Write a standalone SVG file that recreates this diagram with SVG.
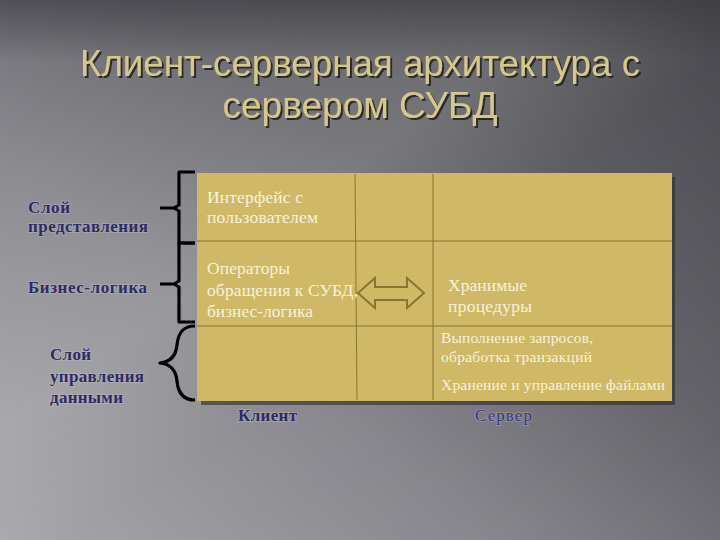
<svg xmlns="http://www.w3.org/2000/svg" width="720" height="540" viewBox="0 0 720 540">
<defs>
<linearGradient id="bg" x1="0" y1="1" x2="1" y2="0">
<stop offset="0" stop-color="#a2a2a7"/>
<stop offset="0.35" stop-color="#84848a"/>
<stop offset="0.6" stop-color="#626268"/>
<stop offset="1" stop-color="#404046"/>
</linearGradient>
<linearGradient id="streak" x1="0" y1="0" x2="1" y2="1">
<stop offset="0" stop-color="#ffffff" stop-opacity="0"/>
<stop offset="0.4" stop-color="#ffffff" stop-opacity="0.15"/>
<stop offset="0.55" stop-color="#ffffff" stop-opacity="0.04"/>
<stop offset="1" stop-color="#ffffff" stop-opacity="0"/>
</linearGradient>
<linearGradient id="topdark" x1="0" y1="0" x2="0" y2="1">
<stop offset="0" stop-color="#2a2a30" stop-opacity="0.45"/>
<stop offset="1" stop-color="#2a2a30" stop-opacity="0"/>
</linearGradient>
<filter id="tshadow" x="-5%" y="-20%" width="110%" height="140%">
<feDropShadow dx="2" dy="2" stdDeviation="0.6" flood-color="#202022" flood-opacity="0.85"/>
</filter>
<style>
.title{font-family:"Liberation Sans",Arial,sans-serif;font-size:37px;fill:#d6c78c;text-anchor:middle;filter:url(#tshadow)}
.lbl{font-family:"Liberation Serif","Times New Roman",serif;font-size:17px;font-weight:bold;fill:#2e2a66;stroke:#d0d0d8;stroke-width:2px;paint-order:stroke;stroke-opacity:0.3}
.cell{font-family:"Liberation Serif","Times New Roman",serif;font-size:17.5px;fill:#f8f2dc}
.small{font-family:"Liberation Serif","Times New Roman",serif;font-size:15.5px;fill:#f8f2dc}
.grid{stroke:#8a7530;stroke-width:1;fill:none}
.brace{stroke:#000;stroke-width:3.2;fill:none;stroke-linejoin:round}
</style>
</defs>
<rect x="0" y="0" width="720" height="540" fill="url(#bg)"/>
<rect x="0" y="0" width="720" height="540" fill="url(#streak)"/>
<rect x="0" y="0" width="720" height="60" fill="url(#topdark)"/>

<g id="title">
<text class="title" x="360" y="76" textLength="560" lengthAdjust="spacingAndGlyphs">Клиент-серверная архитектура с</text>
<text class="title" x="360" y="118" textLength="275" lengthAdjust="spacingAndGlyphs">сервером СУБД</text>
</g>

<g id="table">
<rect x="201" y="177" width="474" height="228" fill="#2a2a2e" opacity="0.6"/>
<rect x="197" y="173" width="475" height="228" fill="#cfb866"/>
<line class="grid" x1="355" y1="174" x2="357" y2="400"/>
<line class="grid" x1="433" y1="174" x2="433" y2="400"/>
<line class="grid" x1="197" y1="241" x2="672" y2="241"/>
<line class="grid" x1="197" y1="326" x2="672" y2="326"/>
</g>

<g id="labels-left">
<text class="lbl" x="28" y="213" textLength="42">Слой</text>
<text class="lbl" x="28" y="232" textLength="120">представления</text>
<text class="lbl" x="28" y="293" textLength="119">Бизнес-логика</text>
<text class="lbl" x="50" y="360" textLength="41">Слой</text>
<text class="lbl" x="50" y="382" textLength="94">управления</text>
<text class="lbl" x="50" y="403" textLength="73">данными</text>
</g>

<g id="braces">
<path class="brace" d="M195,172 H179 V205 L174,208 H160 M174,208 L179,211 V243 H195"/>
<path class="brace" d="M195,243 H179 V281 L174,284 H160 M174,284 L179,287 V322 H195"/>
<path class="brace" d="M195,326 C182,326 178,334 177,345 C176,356 170,362 160,363 C170,364 176,370 177,381 C178,393 183,400 195,400"/>
</g>

<g id="cell-interface">
<text class="cell" x="207" y="203" textLength="96">Интерфейс с</text>
<text class="cell" x="207" y="223" textLength="111">пользователем</text>
</g>
<g id="cell-operators">
<text class="cell" x="207" y="274" textLength="83">Операторы</text>
<text class="cell" x="207" y="296" textLength="151">обращения к СУБД,</text>
<text class="cell" x="207" y="317" textLength="106">бизнес-логика</text>
</g>
<g id="cell-procedures">
<text class="cell" x="448" y="291" textLength="79">Хранимые</text>
<text class="cell" x="448" y="312" textLength="84">процедуры</text>
</g>
<g id="cell-queries">
<text class="small" x="441" y="343" textLength="152">Выполнение запросов,</text>
<text class="small" x="441" y="362" textLength="151">обработка транзакций</text>
</g>
<g id="cell-files">
<text class="small" x="441" y="390" textLength="224">Хранение и управление файлами</text>
</g>

<g id="connectors">
<path d="M358,293 L375,278 V287 H407 V278 L424,293 L407,308 V300 H375 V308 Z" fill="#cfb866" stroke="#8a7530" stroke-width="2" stroke-linejoin="miter"/>
</g>

<g id="footer">
<text class="lbl" x="238" y="421" textLength="59">Клиент</text>
<text class="lbl" x="475" y="421" textLength="57" style="font-weight:normal;fill:#3a3680">Сервер</text>
</g>
</svg>
